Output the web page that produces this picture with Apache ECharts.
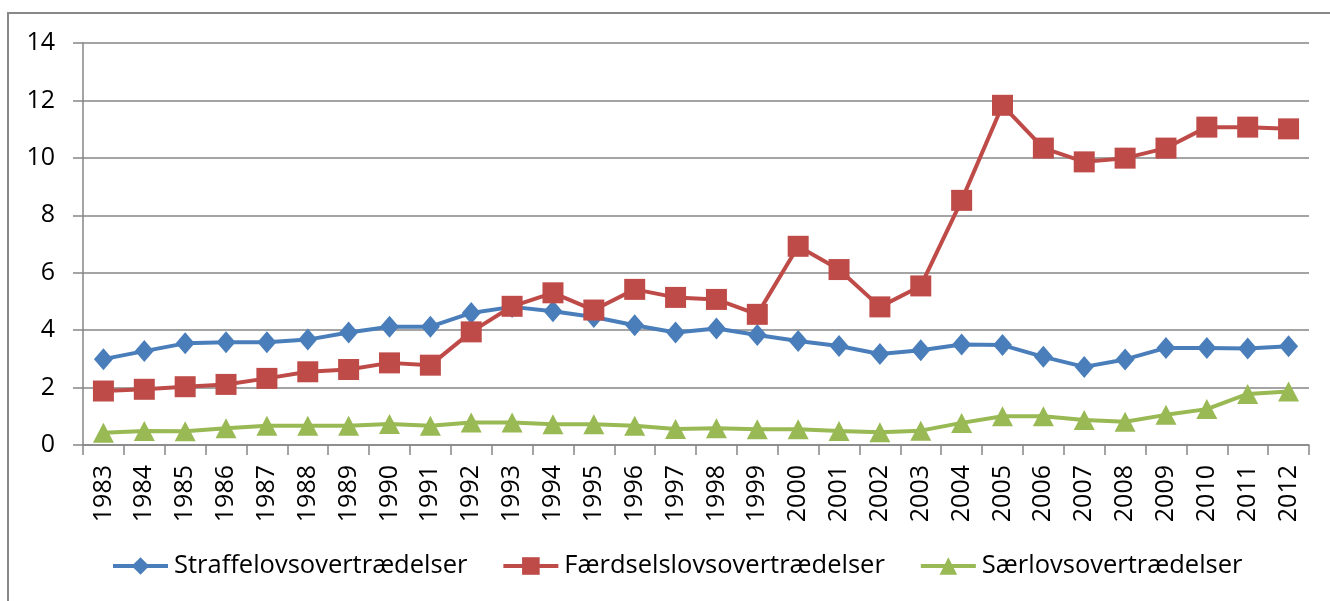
<!DOCTYPE html>
<html><head><meta charset="utf-8">
<script src="https://cdn.jsdelivr.net/npm/echarts@6/dist/echarts.min.js"></script>
<style>html,body{margin:0;padding:0;background:#fff}#c{width:1330px;height:601px}</style>
</head><body><div id="c"></div>
<script>
const years = ['1983','1984','1985','1986','1987','1988','1989','1990','1991','1992','1993','1994','1995','1996','1997','1998','1999','2000','2001','2002','2003','2004','2005','2006','2007','2008','2009','2010','2011','2012'];
const straffelov = [2.99,3.27,3.54,3.58,3.58,3.67,3.92,4.12,4.12,4.6,4.81,4.66,4.46,4.17,3.92,4.06,3.83,3.62,3.45,3.17,3.3,3.5,3.48,3.07,2.72,2.98,3.38,3.38,3.36,3.44];
const faerdselslov = [1.88,1.94,2.03,2.11,2.32,2.55,2.63,2.86,2.78,3.94,4.83,5.3,4.7,5.42,5.14,5.07,4.55,6.92,6.11,4.81,5.54,8.52,11.83,10.34,9.86,9.99,10.34,11.07,11.07,11.01];
const saerlov = [0.43,0.49,0.48,0.58,0.67,0.67,0.67,0.73,0.67,0.78,0.78,0.72,0.72,0.67,0.56,0.58,0.55,0.55,0.49,0.44,0.5,0.77,1.0,1.0,0.87,0.81,1.05,1.25,1.78,1.86];
const seriesNames = ['Straffelovsovertrædelser','Færdselslovsovertrædelser','Særlovsovertrædelser'];
const yTicks = {min:0, max:14, interval:2};

const FONT = 'Open Sans';
const chart = echarts.init(document.getElementById('c'), null, {renderer:'canvas'});
function s(name, data, color, symbol, size){
  return {name, type:'line', data, symbol, symbolSize:size, showSymbol:true,
    lineStyle:{color, width:4}, itemStyle:{color, borderWidth:0}, emphasis:{disabled:true}, animation:false};
}
chart.setOption({
  animation:false,
  textStyle:{fontFamily:FONT},
  graphic:[{type:'rect', shape:{x:8,y:13,width:1400,height:700}, style:{fill:'none', stroke:'#888', lineWidth:2}, silent:true}],
  grid:{left:83, right:21, top:43, bottom:156, containLabel:false},
  legend:{top:548, left:106, itemWidth:55, itemHeight:22, itemGap:34,
    lineStyle:{width:4},
    textStyle:{fontFamily:FONT, fontSize:25.5, color:'#000', padding:[0,0,0,1]},
    data:seriesNames},
  xAxis:{type:'category', data:years, boundaryGap:true,
    axisLine:{lineStyle:{color:'#868686', width:1.5}},
    axisTick:{show:true, length:10, lineStyle:{color:'#868686', width:1.5}},
    axisLabel:{rotate:90, margin:20, fontSize:25, color:'#000', fontFamily:FONT, interval:0}},
  yAxis:{type:'value', min:yTicks.min, max:yTicks.max, interval:yTicks.interval,
    axisLine:{show:true, lineStyle:{color:'#868686', width:1.5}},
    axisTick:{show:true, length:10, lineStyle:{color:'#868686', width:1.5}},
    splitLine:{lineStyle:{color:'#868686', width:1.5}},
    axisLabel:{margin:28, fontSize:25, color:'#000', fontFamily:FONT}},
  series:[
    s(seriesNames[0], straffelov, '#4A7EBB', 'diamond', [19,22]),
    s(seriesNames[1], faerdselslov, '#BE4B48', 'rect', [21,21]),
    s(seriesNames[2], saerlov, '#98B954', 'triangle', [21,20])
  ]
});
</script></body></html>
